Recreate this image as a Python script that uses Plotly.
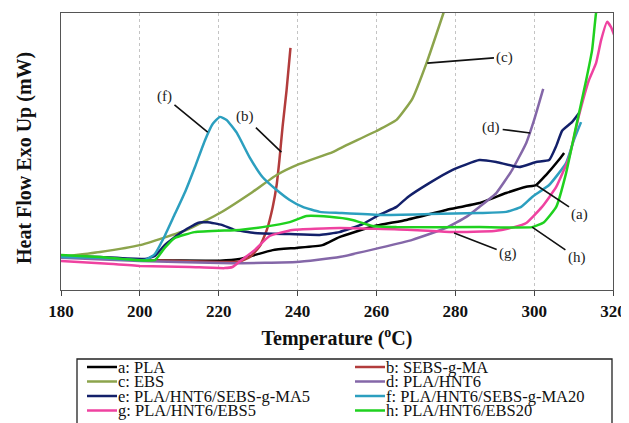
import plotly.graph_objects as go

# ---------------- data ----------------
series_names = ["a: PLA", "b: SEBS-g-MA", "c: EBS", "d: PLA/HNT6",
                "e: PLA/HNT6/SEBS-g-MA5", "f: PLA/HNT6/SEBS-g-MA20",
                "g: PLA/HNT6/EBS5", "h: PLA/HNT6/EBS20"]
series_colors = ["#000000", "#b23c3c", "#8ca44c", "#8467a8",
                 "#13206a", "#2c9fbf", "#ef42a0", "#1fd11f"]

temp_a = [180, 190, 200, 220.3, 225.3, 233.7, 239.7, 246.3, 250.6, 259, 267.6,
          277.7, 286.1, 292.9, 298, 300.5, 303, 306.3, 307.6]
flow_a = [1.23, 1.15, 1.08, 1.06, 1.12, 1.44, 1.52, 1.62, 1.91, 2.29, 2.53,
          2.89, 3.14, 3.50, 3.73, 3.79, 4.15, 4.70, 4.95]

temp_b = [180, 200, 220.3, 225, 228, 230.5, 232.2, 233.7, 234.7, 235.4, 236.2, 237.2, 238.2]
flow_b = [1.19, 1.08, 1.01, 1.02, 1.20, 1.60, 2.17, 3.00, 3.80, 4.70, 5.90, 7.20, 8.74]

temp_c = [180, 189.9, 200, 211.9, 220.3, 228.6, 234.7, 240.5, 248.9, 252.4,
          260, 265.1, 269.1, 272.7, 277, 278.5]
flow_c = [1.19, 1.37, 1.62, 2.17, 2.78, 3.54, 4.15, 4.55, 4.98, 5.23,
          5.74, 6.14, 6.90, 8.19, 10.0, 10.65]

temp_d = [180, 200, 223.5, 239.7, 250.6, 260.8, 269.1, 277.7, 282.8, 286.1,
          290.4, 294.4, 298, 300, 302.3]
flow_d = [1.16, 1.05, 0.97, 1.01, 1.19, 1.52, 1.81, 2.24, 2.64, 3.00,
          3.50, 4.33, 5.31, 6.14, 7.26]

temp_e = [180, 189.9, 201.3, 203.8, 206.3, 210.6, 214.7, 217.2, 220.8, 224,
          229.1, 238, 245.6, 250.6, 256.5, 260.8, 265.1, 268, 273.4, 279.2,
          286.1, 290.4, 296.2, 300.5, 303.8, 305.6, 307.1, 309.6, 311.4]
flow_e = [1.23, 1.19, 1.12, 1.23, 1.62, 2.09, 2.42, 2.45, 2.35, 2.17,
          2.06, 2.02, 1.99, 2.09, 2.38, 2.72, 3.00, 3.36, 3.86, 4.33,
          4.69, 4.62, 4.44, 4.62, 4.69, 5.20, 5.75, 6.06, 6.39]

temp_f = [180, 189.9, 201.3, 203.8, 206.3, 208.9, 211.5, 214, 216.5, 218.5, 220.3,
          222, 224.6, 227.8, 231.1, 234.7, 238, 241.3, 245.6, 250.6, 260.8,
          273.4, 286.1, 292.9, 296.7, 299.5, 303.8, 308.1, 310.1, 311.9]
flow_f = [1.19, 1.16, 1.08, 1.30, 1.95, 2.75, 3.55, 4.45, 5.40, 6.00, 6.25,
          6.14, 5.67, 4.80, 4.08, 3.61, 3.25, 3.00, 2.82, 2.78, 2.71,
          2.74, 2.78, 2.82, 3.00, 3.36, 3.79, 4.58, 5.42, 6.06]

temp_g = [180, 189.9, 200, 212.7, 221.5, 223.5, 225.8, 229.1, 232.9, 238.7,
          250.6, 269.1, 279.2, 289.9, 294.9, 298, 302, 305.6, 308.9, 311.4,
          313.9, 315.7, 317, 318.5, 319.5, 320.3]
flow_g = [1.05, 0.97, 0.87, 0.83, 0.79, 0.83, 1.08, 1.44, 1.95, 2.17,
          2.24, 2.17, 2.09, 2.13, 2.27, 2.42, 3.00, 3.72, 4.80, 6.32,
          7.58, 8.19, 9.03, 9.68, 9.49, 9.20]

temp_h = [180, 189.9, 203.8, 206.3, 208.9, 213.9, 225.3, 231.1, 238, 242.3,
          248.1, 253.9, 259, 265.1, 286.1, 299.5, 302.5, 305.6, 308.1, 310.6,
          313.2, 314.7, 315.7, 316.5]
flow_h = [1.26, 1.19, 1.08, 1.52, 1.88, 2.09, 2.17, 2.27, 2.45, 2.67,
          2.64, 2.53, 2.31, 2.27, 2.27, 2.27, 2.45, 3.00, 4.22, 5.88,
          7.58, 8.66, 10.0, 10.5]

temps = [temp_a, temp_b, temp_c, temp_d, temp_e, temp_f, temp_g, temp_h]
flows = [flow_a, flow_b, flow_c, flow_d, flow_e, flow_f, flow_g, flow_h]

x_ticks = [180, 200, 220, 240, 260, 280, 300, 320]

# curve labels: text, label position (T, flow), pointed position (T, flow)
label_texts = ["(f)", "(b)", "(c)", "(d)", "(a)", "(g)", "(h)"]
label_text_T = [206.3, 226.6, 292.6, 289.1, 311.6, 293.4, 310.8]
label_text_v = [6.97, 6.25, 8.41, 5.85, 2.74, 1.30, 1.17]
label_tip_T = [217.2, 235.9, 272.9, 299.0, 300.5, 279.7, 299.5]
label_tip_v = [5.70, 4.98, 8.19, 5.67, 3.79, 2.06, 2.27]

# ---------------- layout geometry (window pixels) ----------------
WIN_W, WIN_H = 629, 423
OFF = 8                      # default page margin around the plot div
W, H = WIN_W - OFF, WIN_H - OFF
PL, PR, PT, PB = 61, 613, 13, 290   # plot area in window pixels
SERIF = "Liberation Serif"


def xp(px):
    return (px - PL) / (PR - PL)


def yp(py):
    return (PB - py) / (PB - PT)


fig = go.Figure()
for name, col, t, v in zip(series_names, series_colors, temps, flows):
    fig.add_trace(go.Scatter(x=t, y=v, mode="lines", name=name,
                             line=dict(color=col, width=2.5, shape="spline", smoothing=0.4),
                             showlegend=False))

annotations = []
for txt, tx, tv, px_, pv in zip(label_texts, label_text_T, label_text_v, label_tip_T, label_tip_v):
    annotations.append(dict(x=px_, y=pv, xref="x", yref="y", ax=tx, ay=tv,
                            axref="x", ayref="y", text=txt, showarrow=True,
                            arrowhead=0, arrowwidth=1.6, arrowcolor="#111",
                            standoff=0, startstandoff=1,
                            font=dict(family=SERIF, size=15, color="#222")))

# y-axis title
annotations.append(dict(x=xp(24), y=yp(158), xref="paper", yref="paper",
                        xanchor="center", yanchor="middle",
                        text="Heat Flow Exo Up (mW)", textangle=-90, showarrow=False,
                        font=dict(family=SERIF, size=20, color="#111", weight="bold")))

# manual legend (two columns, four rows)
shapes = [dict(type="rect", xref="paper", yref="paper", x0=xp(77), x1=xp(612),
               y0=yp(359), y1=yp(430), line=dict(color="#222", width=1.3),
               fillcolor="rgba(0,0,0,0)")]
col_x = [87, 355]
row_y = [367, 381.5, 396, 410.5]
for i, (name, col) in enumerate(zip(series_names, series_colors)):
    cx = col_x[i % 2]
    ry = row_y[i // 2]
    shapes.append(dict(type="line", xref="paper", yref="paper", x0=xp(cx), x1=xp(cx + 30),
                       y0=yp(ry), y1=yp(ry), line=dict(color=col, width=2.5)))
    annotations.append(dict(x=xp(cx + 29), y=yp(ry), xref="paper", yref="paper",
                            text=name, showarrow=False, xanchor="left", yanchor="middle",
                            font=dict(family=SERIF, size=16.5, color="#111")))

fig.update_layout(
    width=W, height=H,
    margin=dict(l=PL - OFF, r=WIN_W - PR, t=PT - OFF, b=WIN_H - PB, autoexpand=False),
    paper_bgcolor="white", plot_bgcolor="white",
    showlegend=False,
    annotations=annotations, shapes=shapes,
    xaxis=dict(range=[180, 320], tickvals=x_ticks, ticktext=[str(t) for t in x_ticks],
               ticks="outside", ticklen=5, tickwidth=1.3, tickcolor="#444",
               showline=True, linecolor="#555", linewidth=1.3, mirror=True,
               showgrid=True, gridcolor="#c4c4c4", griddash="dot", gridwidth=1,
               zeroline=False,
               tickfont=dict(family=SERIF, size=17, color="#111", weight="bold"),
               title=dict(text="Temperature (<sup>o</sup>C)", standoff=11,
                          font=dict(family=SERIF, size=20, color="#111", weight="bold"))),
    yaxis=dict(range=[0, 10], showticklabels=False, ticks="", showgrid=False,
               showline=True, linecolor="#555", linewidth=1.3, mirror=True,
               zeroline=False),
)

fig.write_html("out.html")
